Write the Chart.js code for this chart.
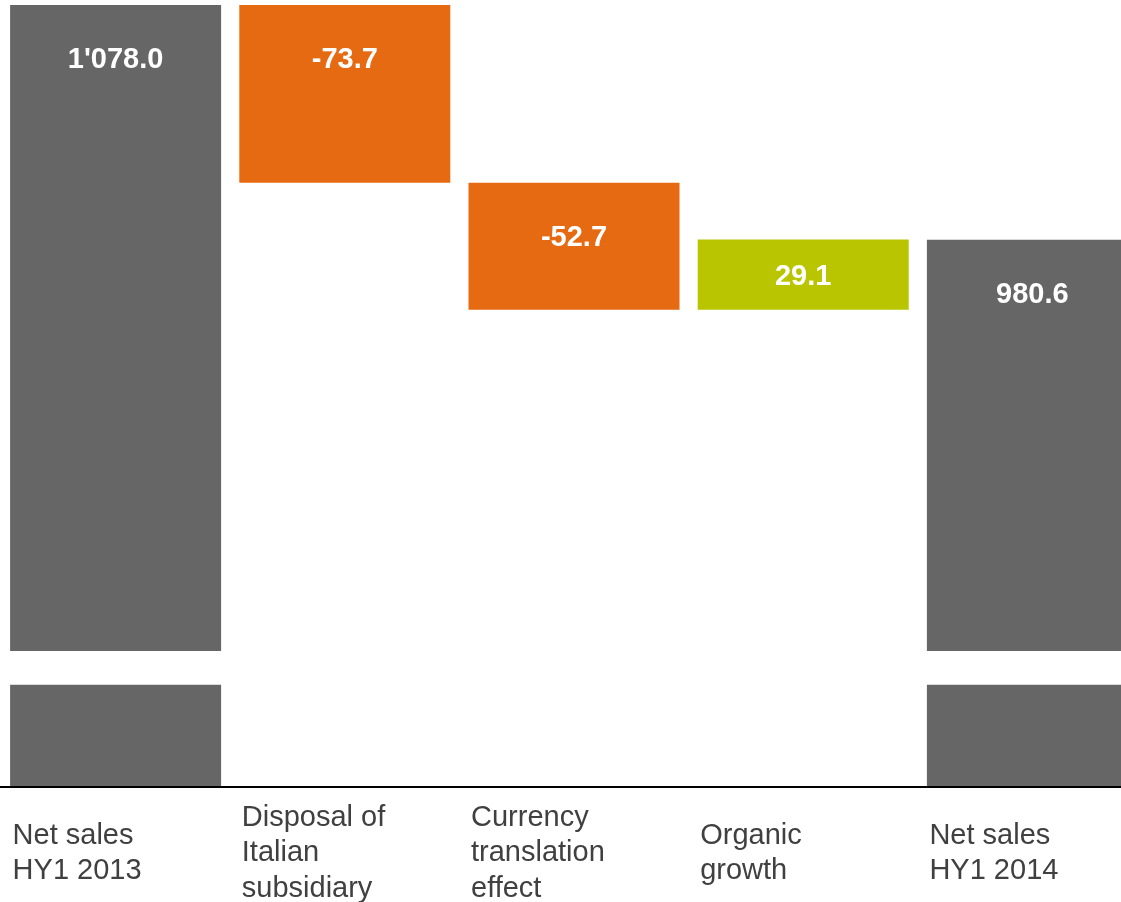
<!DOCTYPE html>
<html lang="en">
<head>
  <meta charset="UTF-8">
  <title>Net sales bridge HY1 2013 - HY1 2014</title>
  <script src="https://cdn.jsdelivr.net/npm/chart.js"></script>
  <style>
    html, body {
      margin: 0;
      padding: 0;
      background: #fff;
      overflow: hidden;
      font-family: Arial, "Liberation Sans", sans-serif;
    }
    #wrap {
      width: 1150px;
      height: 902px;
    }
  </style>
</head>
<body>
<div id="wrap">
  <canvas id="bridgeChart" width="1150" height="902"></canvas>
</div>

<script>
  // data
  const categories = [
    ['Net sales', 'HY1 2013'],
    ['Disposal of', 'Italian', 'subsidiary'],
    ['Currency', 'translation', 'effect'],
    ['Organic', 'growth'],
    ['Net sales', 'HY1 2014']
  ];
  const values = [1078.0, -73.7, -52.7, 29.1, 980.6];
  const kinds = ['total', 'delta', 'delta', 'delta', 'total'];

  // axis is cut: only the top part is shown, with a break in the total bars
  const yMin = 754;
  const yMax = 1078;
  const breakBand = [796, 810];

  const GREY = '#666666';
  const ORANGE = '#E66A11';
  const GREEN = '#B9C500';
  const FONT = '"Liberation Sans", Arial, sans-serif';

  // build the floating bars
  let running = 0;
  const ranges = [];
  const colors = [];
  values.forEach((v, i) => {
    if (kinds[i] === 'total') {
      ranges.push([0, v]);
      running = v;
      colors.push(GREY);
    } else {
      ranges.push([running, running + v]);
      running += v;
      colors.push(v < 0 ? ORANGE : GREEN);
    }
  });

  function fmt(v) {
    const parts = Math.abs(v).toFixed(1).split('.');
    parts[0] = parts[0].replace(/\B(?=(\d{3})+(?!\d))/g, "'");
    return (v < 0 ? '-' : '') + parts.join('.');
  }

  const bridgePlugin = {
    id: 'bridge',
    afterDatasetsDraw(chart) {
      const ctx = chart.ctx;
      const area = chart.chartArea;
      const y = chart.scales.y;
      const meta = chart.getDatasetMeta(0);

      // axis break
      const b1 = y.getPixelForValue(breakBand[1]);
      const b0 = y.getPixelForValue(breakBand[0]);
      ctx.save();
      ctx.fillStyle = '#fff';
      ctx.fillRect(0, b1, chart.width, b0 - b1);

      // value labels
      ctx.fillStyle = '#fff';
      ctx.font = 'bold 29px ' + FONT;
      ctx.textAlign = 'center';
      ctx.textBaseline = 'alphabetic';
      meta.data.forEach((bar, i) => {
        const top = Math.min(bar.y, bar.base);
        const bottom = Math.min(Math.max(bar.y, bar.base), area.bottom);
        const mid = Math.min(top + 52.5, (top + bottom) / 2);
        ctx.fillText(fmt(values[i]), bar.x, mid + 10.8);
      });

      // base line
      ctx.strokeStyle = '#000';
      ctx.lineWidth = 2;
      ctx.beginPath();
      ctx.moveTo(0, area.bottom + 1);
      ctx.lineTo(chart.width, area.bottom + 1);
      ctx.stroke();

      // category labels, left aligned under each bar
      ctx.fillStyle = '#404040';
      ctx.font = '29px ' + FONT;
      ctx.textAlign = 'left';
      meta.data.forEach((bar, i) => {
        const lines = categories[i];
        const left = bar.x - bar.width / 2 + 2.5;
        lines.forEach((line, j) => {
          const yy = area.bottom + 65 + 10.3 + (j - (lines.length - 1) / 2) * 35.5;
          ctx.fillText(line, left, yy);
        });
      });
      ctx.restore();
    }
  };

  function draw() {
    new Chart(document.getElementById('bridgeChart').getContext('2d'), {
      type: 'bar',
      data: {
        labels: categories.map(c => c.join(' ')),
        datasets: [{
          data: ranges,
          backgroundColor: colors,
          borderWidth: 0,
          barPercentage: 1,
          categoryPercentage: 0.9206
        }]
      },
      options: {
        responsive: false,
        animation: false,
        layout: {
          padding: { top: 5, bottom: 116, left: 1, right: 3 }
        },
        plugins: {
          legend: { display: false },
          tooltip: { enabled: false }
        },
        scales: {
          x: { display: false },
          y: { display: false, min: yMin, max: yMax }
        }
      },
      plugins: [bridgePlugin]
    });
  }

  Promise.all([
    document.fonts.load('29px "Liberation Sans"'),
    document.fonts.load('bold 29px "Liberation Sans"')
  ]).then(draw, draw);
</script>
</body>
</html>
